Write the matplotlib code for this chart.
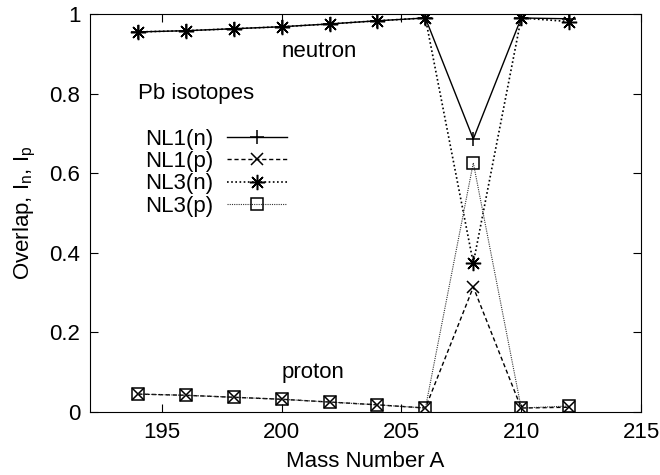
import numpy as np
import matplotlib.pyplot as plt

plt.rcParams['font.family'] = ['Liberation Sans', 'DejaVu Sans']

# mass numbers of the Pb isotopes
mass = [194, 196, 198, 200, 202, 204, 206, 208, 210, 212]

# overlaps for neutrons and protons, NL1 and NL3 forces
nl1_n = [0.955, 0.958, 0.963, 0.968, 0.975, 0.983, 0.990, 0.686, 0.990, 0.988]
nl1_p = [0.045, 0.042, 0.037, 0.032, 0.025, 0.018, 0.010, 0.314, 0.010, 0.012]
nl3_n = [0.955, 0.958, 0.963, 0.968, 0.975, 0.983, 0.990, 0.374, 0.990, 0.981]
nl3_p = [0.045, 0.042, 0.037, 0.032, 0.025, 0.018, 0.010, 0.626, 0.010, 0.015]

fs = 16

fig = plt.figure(figsize=(6.6, 4.75), dpi=100)
ax = fig.add_axes([90/660, 1-412/475, 551/660, 398/475])

ax.plot(mass, nl1_n, color='black', lw=1.0, ls='-', marker='+', ms=10, mew=1.1,
        label='NL1(n)')
ax.plot(mass, nl1_p, color='black', lw=1.0, ls=(0, (3, 2)), marker='x', ms=9, mew=1.1,
        label='NL1(p)')
ax.plot(mass, nl3_n, color='black', lw=1.2, ls=(0, (1, 1.5)), marker=(8, 2, 0), ms=11, mew=1.1,
        label='NL3(n)')
ax.plot(mass, nl3_p, color='#333333', lw=0.8, ls=(0, (1, 1)), marker='s', ms=9, mew=1.1,
        mfc='none', mec='black', label='NL3(p)')

ax.set_xlim(192, 215)
ax.set_ylim(0, 1)
ax.set_xticks([195, 200, 205, 210, 215])
ax.set_yticks([0, 0.2, 0.4, 0.6, 0.8, 1.0])
ax.set_yticklabels(['0', '0.2', '0.4', '0.6', '0.8', '1'])
ax.tick_params(direction='in', top=True, right=True, labelsize=fs, length=6, pad=7)

ax.set_xlabel('Mass Number A', fontsize=fs, labelpad=6)
ax.set_ylabel(r'Overlap, I$_\mathregular{n}$, I$_\mathregular{p}$', fontsize=fs, labelpad=8)

ax.text(200.0, 0.905, 'neutron', fontsize=fs, ha='left', va='center')
ax.text(200.0, 0.098, 'proton', fontsize=fs, ha='left', va='center')
ax.text(194.0, 0.80, 'Pb isotopes', fontsize=fs, ha='left', va='center')

ax.legend(loc='upper left', bbox_to_anchor=(0.10, 0.712), frameon=False,
          markerfirst=False, fontsize=fs, handlelength=2.7, labelspacing=0.06,
          handletextpad=0.63, borderpad=0, borderaxespad=0)

fig.savefig('out.png', dpi=100)
